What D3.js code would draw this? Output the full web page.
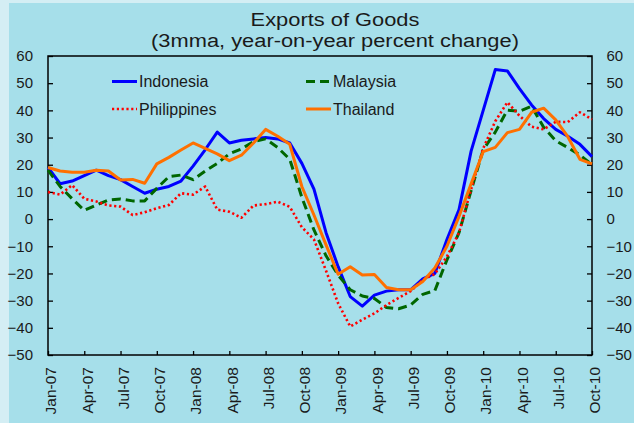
<!DOCTYPE html>
<html>
<head>
<meta charset="utf-8">
<script src="https://cdn.jsdelivr.net/npm/d3@7"></script>
<style>
  body { margin: 0; background: #d4eef4; }
  svg { display: block; font-family: "Liberation Sans", Arial, sans-serif; }
</style>
</head>
<body>
<svg id="mainSvg" width="634" height="423"></svg>
<script>
var months = ["Jan-07","Feb-07","Mar-07","Apr-07","May-07","Jun-07","Jul-07","Aug-07","Sep-07","Oct-07","Nov-07","Dec-07",
              "Jan-08","Feb-08","Mar-08","Apr-08","May-08","Jun-08","Jul-08","Aug-08","Sep-08","Oct-08","Nov-08","Dec-08",
              "Jan-09","Feb-09","Mar-09","Apr-09","May-09","Jun-09","Jul-09","Aug-09","Sep-09","Oct-09","Nov-09","Dec-09",
              "Jan-10","Feb-10","Mar-10","Apr-10","May-10","Jun-10","Jul-10","Aug-10","Sep-10","Oct-10"];

var indonesia = [19, 13, 14, 16, 18, 16, 14.5, 12, 9.5, 11, 12, 14,
                 19.5, 25.5, 32, 28, 29, 29.5, 30, 29.5, 28, 20.5, 11, -5,
                 -17.5, -28.5, -32, -28, -26.5, -26, -26, -22, -20, -7.5, 3.5, 25,
                 40, 55, 54.5, 48, 42, 37, 33, 30.5, 27.5, 23];

var malaysia = [18, 12, 7.5, 3.2, 5.2, 7, 7.4, 6.7, 6.7, 11.3, 15.6, 16.2,
                14.5, 17.7, 20.5, 24, 25.8, 28.5, 29.5, 26.3, 22, 8, -4, -13.5,
                -20.6, -26, -28.3, -29.2, -32.5, -33, -31.6, -27.7, -26.3, -15, -5, 10.5,
                25.5, 32, 40.1, 39.7, 41.5, 33.8, 28.8, 26.3, 23.6, 20];

var philippines = [10, 9, 12.5, 7.5, 6.5, 5, 4.6, 1.5, 2.5, 4, 5.2, 9.5,
                   9, 12, 3.5, 2.7, 0.5, 5, 5.5, 6.4, 4.5, -3, -7.5, -19,
                   -31, -39.5, -37, -34.7, -31.6, -29, -26.5, -22.4, -20.2, -13.8, -5, 11,
                   26, 36, 43, 38, 34, 33, 35.8, 35.7, 39.3, 36.7];

var thailand = [19, 17.7, 17.2, 17.2, 18, 17.7, 14.4, 14.6, 13.2, 20.3, 22.7, 25.4,
                28, 26, 24, 21.5, 23.5, 28, 33, 30.5, 27.5, 12, 1.5, -9.5,
                -20.3, -17.5, -20.6, -20.4, -25.2, -26, -26, -23, -18, -10, 1, 13,
                24.8, 26.4, 31.8, 33, 39.3, 40.8, 36.5, 30.3, 22, 20.3];

var yTicks = [-50, -40, -30, -20, -10, 0, 10, 20, 30, 40, 50, 60];
var xTickIndex = [0, 3, 6, 9, 12, 15, 18, 21, 24, 27, 30, 33, 36, 39, 42, 45];

var series = [
  {name: "Indonesia",   values: indonesia,   color: "#0000ff", dash: null,      width: 3},
  {name: "Malaysia",    values: malaysia,    color: "#006600", dash: "9,5",     width: 3},
  {name: "Philippines", values: philippines, color: "#ff0000", dash: "2.2,2.6", width: 2.6},
  {name: "Thailand",    values: thailand,    color: "#ff7000", dash: null,      width: 3}
];

var svg = d3.select("#mainSvg");

// background
svg.append("rect").attr("width", 634).attr("height", 423).attr("fill", "#d4eef4");
svg.append("rect").attr("x", 9).attr("y", 3).attr("width", 625).attr("height", 420).attr("fill", "#a6dfea");

var plotLeft = 48, plotRight = 592, plotTop = 56, plotBottom = 355;

var x = d3.scaleLinear().domain([0, months.length - 1]).range([plotLeft, plotRight]);
var y = d3.scaleLinear().domain([-50, 60]).range([plotBottom, plotTop]);

// title
var title = svg.append("g").attr("fill", "#1a1a1a").attr("text-anchor", "middle").style("font-size", "19px");
title.append("text").attr("transform", "translate(335,26) scale(1.15,1)").text("Exports of Goods");
title.append("text").attr("transform", "translate(335,47) scale(1.15,1)").text("(3mma, year-on-year percent change)");

// axes
var leftAxis = svg.append("g")
  .attr("transform", "translate(" + plotLeft + ",0)")
  .call(d3.axisLeft(y).tickValues(yTicks).tickSizeInner(-5).tickSizeOuter(0).tickPadding(15));

var rightAxis = svg.append("g")
  .attr("transform", "translate(" + plotRight + ",0)")
  .call(d3.axisRight(y).tickValues(yTicks).tickSizeInner(-5).tickSizeOuter(0).tickPadding(14.5));

var bottomAxis = svg.append("g")
  .attr("transform", "translate(0," + plotBottom + ")")
  .call(d3.axisBottom(x).tickValues(xTickIndex).tickFormat(function(i) { return months[i]; })
        .tickSizeInner(-4).tickSizeOuter(0));

[leftAxis, rightAxis, bottomAxis].forEach(function(g) {
  g.select(".domain").remove();
  g.selectAll(".tick line").attr("stroke", "#000").attr("stroke-width", 1.3);
  g.selectAll(".tick text").attr("fill", "#1a1a1a").style("font-size", "15px").style("font-family", "Liberation Sans, Arial, sans-serif");
});

bottomAxis.selectAll(".tick text")
  .attr("y", 0).attr("x", 0).attr("dy", "0.5em")
  .attr("text-anchor", "end")
  .attr("transform", "translate(0,12) rotate(-90)")
  .style("font-size", "15.5px");

// frame
svg.append("rect")
  .attr("x", plotLeft).attr("y", plotTop)
  .attr("width", plotRight - plotLeft).attr("height", plotBottom - plotTop)
  .attr("fill", "none").attr("stroke", "#000").attr("stroke-width", 1.5);

// lines
var line = d3.line()
  .x(function(d, i) { return x(i); })
  .y(function(d) { return y(d); });

var plot = svg.append("g");
plot.selectAll(".series")
  .data(series)
  .enter().append("path")
  .attr("class", "series")
  .attr("d", function(d) { return line(d.values); })
  .attr("fill", "none")
  .attr("stroke", function(d) { return d.color; })
  .attr("stroke-width", function(d) { return d.width; })
  .attr("stroke-dasharray", function(d) { return d.dash; })
  .attr("stroke-linejoin", "round");

// legend
var legendPos = [
  {lx: 112, ly: 81.5},
  {lx: 306, ly: 81.5},
  {lx: 112, ly: 109},
  {lx: 306, ly: 109}
];

var legend = svg.append("g").selectAll(".legend")
  .data(series)
  .enter().append("g")
  .attr("class", "legend")
  .attr("transform", function(d, i) { return "translate(" + legendPos[i].lx + "," + legendPos[i].ly + ")"; });

legend.append("line")
  .attr("x1", 0).attr("x2", 25)
  .attr("stroke", function(d) { return d.color; })
  .attr("stroke-width", function(d) { return d.width; })
  .attr("stroke-dasharray", function(d) { return d.dash; });

legend.append("text")
  .attr("x", 27).attr("dy", "0.35em")
  .attr("fill", "#1a1a1a")
  .style("font-size", "16px")
  .text(function(d) { return d.name; });
</script>
</body>
</html>
